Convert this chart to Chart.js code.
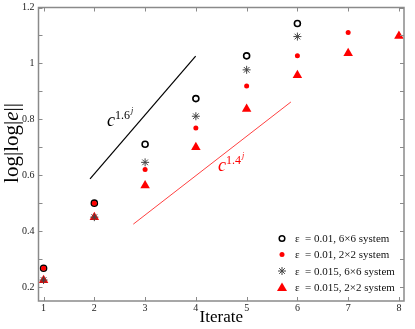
<!DOCTYPE html>
<html lang="en">
<head>
    <meta charset="UTF-8">
    <title>Iterate convergence</title>
    <style>
        body {
            margin: 0;
            background: #fff;
        }
        #wrap {
            width: 415px;
            height: 329px;
        }
    </style>
    <script src="https://cdn.jsdelivr.net/npm/chart.js"></script>
</head>
<body>

<div id="wrap"><canvas id="convChart" width="415" height="329"></canvas></div>

<script>
    // iterate numbers
    const iterates = [1, 2, 3, 4, 5, 6, 7, 8];

    // log|log|e|| values
    const eps001_6x6 = [0.267, 0.500, 0.711, 0.874, 1.027, 1.143];
    const eps001_2x2 = [0.267, 0.500, 0.620, 0.769, 0.919, 1.027, 1.111];
    const eps0015_6x6 = [0.225, 0.450, 0.646, 0.811, 0.977, 1.096];
    const eps0015_2x2 = [0.224, 0.450, 0.563, 0.700, 0.837, 0.958, 1.036, 1.098];

    // reference slope lines (x, y end points)
    const slope16X = [1.915, 3.996];
    const slope16Y = [0.587, 1.026];
    const slope14X = [2.768, 5.872];
    const slope14Y = [0.425, 0.862];

    const xTicks = [1, 2, 3, 4, 5, 6, 7, 8];
    const yTicks = [0.2, 0.3, 0.4, 0.5, 0.6, 0.7, 0.8, 0.9, 1.0, 1.1, 1.2];

    const legendLabels = [
        'ε  = 0.01, 6×6 system',
        'ε  = 0.01, 2×2 system',
        'ε  = 0.015, 6×6 system',
        'ε  = 0.015, 2×2 system'
    ];

    function toPoints(xs, ys) {
        return ys.map((y, i) => ({ x: xs[i], y: y }));
    }

    const SERIF = '"Liberation Serif", "DejaVu Serif", serif';

    // ticks pointing inwards, frame, legend and annotations
    const decorations = {
        id: 'decorations',
        afterDraw(chart) {
            const ctx = chart.ctx;
            const a = chart.chartArea;
            const xs = chart.scales.x;
            const ys = chart.scales.y;
            ctx.save();
            ctx.strokeStyle = '#8a8a8a';
            ctx.lineWidth = 1;
            xTicks.forEach(v => {
                const px = Math.round(xs.getPixelForValue(v)) + 0.5;
                ctx.beginPath();
                ctx.moveTo(px, a.bottom); ctx.lineTo(px, a.bottom - 4);
                ctx.moveTo(px, a.top); ctx.lineTo(px, a.top + 4);
                ctx.stroke();
            });
            yTicks.forEach(v => {
                const py = Math.round(ys.getPixelForValue(v)) + 0.5;
                ctx.beginPath();
                ctx.moveTo(a.left, py); ctx.lineTo(a.left + 4, py);
                ctx.moveTo(a.right, py); ctx.lineTo(a.right - 4, py);
                ctx.stroke();
            });
            ctx.lineWidth = 1.5;
            ctx.strokeRect(a.left, a.top, a.right - a.left, a.bottom - a.top);

            // y axis title: log|log|e||
            ctx.fillStyle = '#000';
            ctx.textBaseline = 'alphabetic';
            ctx.translate(18, 143);
            ctx.rotate(-Math.PI / 2);
            const parts = [
                ['log|log|', '21px ' + SERIF],
                ['e', 'italic 21px ' + SERIF],
                ['||', '21px ' + SERIF]
            ];
            let total = 0;
            parts.forEach(p => { ctx.font = p[1]; total += ctx.measureText(p[0]).width; });
            let cx = -total / 2;
            parts.forEach(p => {
                ctx.font = p[1];
                ctx.fillText(p[0], cx, 0);
                cx += ctx.measureText(p[0]).width;
            });
            ctx.restore();

            // slope labels
            function slopeLabel(x, y, exp, color) {
                ctx.save();
                ctx.fillStyle = color;
                ctx.textBaseline = 'alphabetic';
                ctx.font = 'italic 18px ' + SERIF;
                ctx.fillText('c', x, y);
                let w = ctx.measureText('c').width;
                ctx.font = '12px ' + SERIF;
                ctx.fillText(exp, x + w, y - 7);
                w += ctx.measureText(exp).width + 1;
                ctx.font = 'italic 8px ' + SERIF;
                ctx.fillText('j', x + w, y - 13);
                ctx.restore();
            }
            slopeLabel(107, 126, '1.6', '#000');
            slopeLabel(218, 171, '1.4', '#ff0000');

            // legend
            const mx = 282, tx = 295;
            const rows = [238.5, 254.5, 271, 287.5];
            ctx.save();
            rows.forEach((ry, i) => {
                ctx.beginPath();
                if (i === 0) {
                    ctx.strokeStyle = '#000'; ctx.lineWidth = 1.5;
                    ctx.arc(mx, ry, 2.8, 0, Math.PI * 2); ctx.stroke();
                } else if (i === 1) {
                    ctx.fillStyle = '#ff0000';
                    ctx.arc(mx, ry, 2.5, 0, Math.PI * 2); ctx.fill();
                } else if (i === 2) {
                    ctx.strokeStyle = '#444'; ctx.lineWidth = 1;
                    for (let k = 0; k < 4; k++) {
                        const ang = k * Math.PI / 4;
                        ctx.moveTo(mx - 4 * Math.cos(ang), ry - 4 * Math.sin(ang));
                        ctx.lineTo(mx + 4 * Math.cos(ang), ry + 4 * Math.sin(ang));
                    }
                    ctx.stroke();
                } else {
                    ctx.fillStyle = '#ff0000';
                    ctx.moveTo(mx, ry - 5); ctx.lineTo(mx + 5, ry + 3.5); ctx.lineTo(mx - 5, ry + 3.5);
                    ctx.closePath(); ctx.fill();
                }
                ctx.fillStyle = '#111';
                ctx.font = '11px ' + SERIF;
                ctx.textBaseline = 'middle';
                ctx.fillText(legendLabels[i], tx, ry + 1);
            });
            ctx.restore();
        }
    };

    const ctx = document.getElementById('convChart').getContext('2d');
    new Chart(ctx, {
        type: 'scatter',
        data: {
            datasets: [
                {
                    label: legendLabels[0],
                    data: toPoints(iterates, eps001_6x6),
                    pointStyle: 'circle',
                    pointRadius: 3,
                    pointBorderWidth: 1.6,
                    borderColor: '#000',
                    backgroundColor: 'rgba(0,0,0,0)',
                    order: 4
                },
                {
                    label: legendLabels[1],
                    data: toPoints(iterates, eps001_2x2),
                    pointStyle: 'circle',
                    pointRadius: 2.5,
                    pointBorderWidth: 0,
                    borderColor: '#ff0000',
                    backgroundColor: '#ff0000',
                    order: 3
                },
                {
                    label: legendLabels[3],
                    data: toPoints(iterates, eps0015_2x2),
                    pointStyle: 'triangle',
                    pointRadius: 5.5,
                    pointBorderWidth: 0,
                    borderColor: '#ff0000',
                    backgroundColor: '#ff0000',
                    order: 2
                },
                {
                    label: legendLabels[2],
                    data: toPoints(iterates, eps0015_6x6),
                    pointStyle: 'star',
                    pointRadius: 4,
                    pointBorderWidth: 1,
                    borderColor: '#444',
                    backgroundColor: '#444',
                    order: 1
                },
                {
                    label: 'c^1.6^j',
                    data: toPoints(slope16X, slope16Y),
                    showLine: true,
                    pointRadius: 0,
                    borderColor: '#000',
                    borderWidth: 1.2,
                    order: 5
                },
                {
                    label: 'c^1.4^j',
                    data: toPoints(slope14X, slope14Y),
                    showLine: true,
                    pointRadius: 0,
                    borderColor: '#ff4040',
                    borderWidth: 1,
                    order: 5
                }
            ]
        },
        options: {
            responsive: false,
            animation: false,
            layout: {
                padding: { left: 0, right: 11, top: 7.5, bottom: 0 }
            },
            plugins: {
                legend: { display: false },
                tooltip: { enabled: false }
            },
            scales: {
                x: {
                    type: 'linear',
                    min: 0.9,
                    max: 8.1,
                    afterBuildTicks: s => { s.ticks = xTicks.map(v => ({ value: v })); },
                    afterFit: s => {
                        s.height = 28;
                        s.paddingLeft = 0; s.paddingRight = 0;
                    },
                    grid: { display: false, drawTicks: false, tickLength: 0 },
                    border: { display: false },
                    ticks: {
                        padding: 1,
                        color: '#222',
                        font: { family: SERIF, size: 10 },
                        maxRotation: 0
                    },
                    title: {
                        display: true,
                        text: 'Iterate',
                        color: '#000',
                        font: { family: SERIF, size: 17 },
                        padding: { top: 0, bottom: 1 }
                    }
                },
                y: {
                    type: 'linear',
                    min: 0.15,
                    max: 1.2,
                    afterBuildTicks: s => { s.ticks = yTicks.map(v => ({ value: v })); },
                    afterFit: s => {
                        s.width = 38.5;
                        s.paddingTop = 0; s.paddingBottom = 0;
                    },
                    grid: { display: false, drawTicks: false, tickLength: 0 },
                    border: { display: false },
                    ticks: {
                        padding: 4,
                        color: '#222',
                        font: { family: SERIF, size: 10 },
                        callback: v => {
                            const t = Math.round(v * 10);
                            if (t % 2 !== 0) return '';
                            return t === 10 ? '1' : (t / 10).toString();
                        }
                    }
                }
            }
        },
        plugins: [decorations]
    });
</script>

</body>
</html>
